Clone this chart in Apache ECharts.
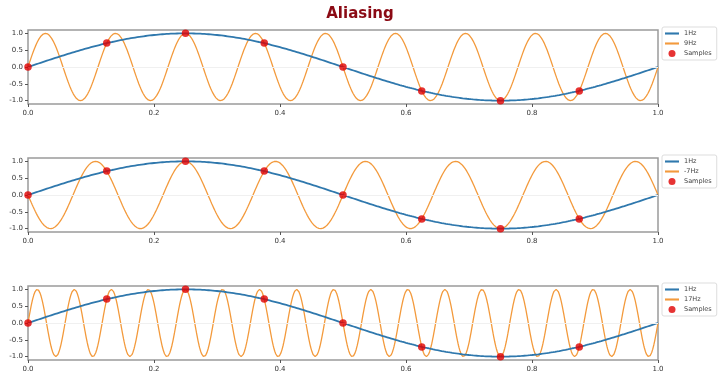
<!DOCTYPE html>
<html>
<head>
<meta charset="utf-8">
<script src="https://cdn.jsdelivr.net/npm/echarts@6/dist/echarts.min.js"></script>
<style>
  html, body { margin: 0; padding: 0; background: #fff; }
  #chart { width: 720px; height: 378px; }
</style>
</head>
<body>
<div id="chart"></div>
<script>
// alias frequencies shown in each panel (legend labels)
const baseFreq = 1;
const aliasFreqs = [9, -7, 17];
const aliasNames = ["9Hz", "-7Hz", "17Hz"];
// 8 samples per second
const sampleTimes = [0, 0.125, 0.25, 0.375, 0.5, 0.625, 0.75, 0.875];
const sampleValues = [0, 0.71, 1, 0.71, 0, -0.71, -1, -0.71];
const xTicks = [0, 0.2, 0.4, 0.6, 0.8, 1.0];
const yTicks = [-1, -0.5, 0, 0.5, 1];

const nPts = 1200;
function sineCurve(f) {
  const out = [];
  for (let i = 0; i <= nPts; i++) {
    const t = i / nPts;
    out.push([t, Math.sin(2 * Math.PI * f * t)]);
  }
  return out;
}

const panelTops = [30, 158, 286];
const panelHeight = 74;
const lineIcon = "path://M0,0H20V3H0Z";

const chart = echarts.init(document.getElementById("chart"));

const grid = [], xAxis = [], yAxis = [], series = [], legend = [];
panelTops.forEach((top, i) => {
  grid.push({
    left: 28, right: 62, top: top, height: panelHeight,
    show: true, borderColor: "#9a9a9a", borderWidth: 1.5, backgroundColor: "transparent",
  });
  xAxis.push({
    type: "value", gridIndex: i, min: 0, max: 1, interval: 0.2,
    axisLine: { show: false, onZero: false },
    axisTick: { show: true, length: 3, customValues: xTicks, lineStyle: { color: "#555" } },
    axisLabel: {
      fontSize: 7, color: "#333", margin: 6, fontFamily: "DejaVu Sans",
      customValues: xTicks, formatter: (v) => v.toFixed(1),
    },
    splitLine: { show: false },
  });
  yAxis.push({
    type: "value", gridIndex: i, min: -1.1, max: 1.1,
    axisLine: { show: false, onZero: false },
    axisTick: { show: true, length: 3, customValues: yTicks, lineStyle: { color: "#555" } },
    axisLabel: {
      fontSize: 7, color: "#333", margin: 5, fontFamily: "DejaVu Sans",
      customValues: yTicks, formatter: (v) => v.toFixed(1),
    },
    splitLine: { show: false },
  });
  series.push({
    name: "1Hz", type: "line", xAxisIndex: i, yAxisIndex: i,
    data: sineCurve(baseFreq), symbol: "none", silent: true,
    lineStyle: { color: "#2f78ad", width: 1.8 }, itemStyle: { color: "#2f78ad" },
    z: 3,
    markLine: {
      silent: true, symbol: "none", label: { show: false },
      lineStyle: { color: "#f0f0f0", width: 1, type: "solid" },
      data: [{ yAxis: 0 }],
    },
  });
  series.push({
    name: aliasNames[i], type: "line", xAxisIndex: i, yAxisIndex: i,
    data: sineCurve(aliasFreqs[i]), symbol: "none", silent: true,
    lineStyle: { color: "#f39a3c", width: 1.3 }, itemStyle: { color: "#f39a3c" },
    z: 2,
  });
  series.push({
    name: "Samples", type: "scatter", xAxisIndex: i, yAxisIndex: i,
    data: sampleTimes.map((t, k) => [t, sampleValues[k]]),
    symbol: "circle", symbolSize: 7.5, itemStyle: { color: "#e00000" },
    z: 5,
  });
  legend.push({
    data: [
      { name: "1Hz", icon: lineIcon },
      { name: aliasNames[i], icon: lineIcon },
      { name: "Samples", icon: "circle" },
    ],
    orient: "vertical", left: 662, top: top - 3,
    itemWidth: 14, itemHeight: 7, itemGap: 3,
    padding: [3, 5, 3, 3],
    borderColor: "#ddd", borderWidth: 1, borderRadius: 2,
    textStyle: { fontSize: 6.5, color: "#444", fontFamily: "DejaVu Sans" },
    selectedMode: false,
  });
});

chart.setOption({
  animation: false,
  backgroundColor: "#fff",
  title: {
    text: "Aliasing", left: "center", top: 2,
    textStyle: { fontSize: 15, fontWeight: "bold", color: "#8b0a14", fontFamily: "DejaVu Sans" },
  },
  grid, xAxis, yAxis, series, legend,
});
</script>
</body>
</html>
